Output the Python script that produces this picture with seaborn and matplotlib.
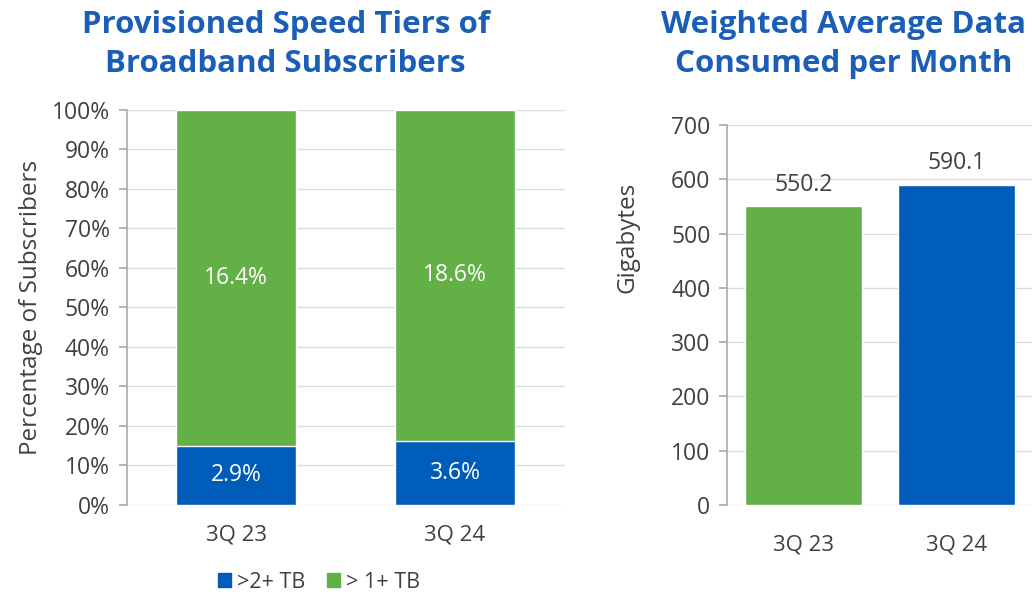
import pandas as pd
import seaborn as sns
import matplotlib.pyplot as plt
from matplotlib.patches import Patch

quarters = ['3Q 23', '3Q 24']
tier_2tb_share = [15.0, 16.2]      # bar height of the >2+ TB segment (%)
tier_2tb_labels = ['2.9%', '3.6%']
tier_1tb_labels = ['16.4%', '18.6%']
data_gb = [550.2, 590.1]

BLUE = '#005CB9'
GREEN = '#62B046'
TITLE = '#1B5EB8'
TXT = '#404040'

sns.set_theme(style='white')
plt.rcParams['font.family'] = ['Open Sans', 'DejaVu Sans']

fig = plt.figure(figsize=(10.32, 5.95), dpi=100)
ax1 = fig.add_axes([0.1226, 0.1513, 0.4244, 0.6639])
ax2 = fig.add_axes([0.7045, 0.1513, 0.2965, 0.6387])

# left chart: stacked 100% bars
df = pd.DataFrame({'quarter': quarters, 'low': tier_2tb_share,
                   'total': [100.0] * len(quarters)})
sns.barplot(data=df, x='quarter', y='total', color=GREEN, width=0.55,
            saturation=1, ax=ax1)
sns.barplot(data=df, x='quarter', y='low', color=BLUE, width=0.55,
            saturation=1, ax=ax1)
for i, (lo, l1, l2) in enumerate(zip(tier_2tb_share, tier_2tb_labels, tier_1tb_labels)):
    ax1.text(i, lo / 2, l1, ha='center', va='center', color='white', fontsize=16.5)
    ax1.text(i, (lo + 100) / 2, l2, ha='center', va='center', color='white', fontsize=16.5)
ax1.set_ylim(0, 100)
ax1.set_yticks(range(0, 101, 10))
ax1.set_yticklabels([f'{v}%' for v in range(0, 101, 10)])
ax1.set_ylabel('Percentage of Subscribers', fontsize=17.5, color=TXT, labelpad=6)
ax1.set_xlabel('')
ax1.set_title('Provisioned Speed Tiers of\nBroadband Subscribers', fontsize=22.5,
              fontweight='bold', color=TITLE, pad=27, x=0.363, linespacing=1.4)
handles = [Patch(color=BLUE, label='>2+ TB'), Patch(color=GREEN, label='> 1+ TB')]
ax1.legend(handles=handles, loc='upper center', bbox_to_anchor=(0.44, -0.12),
           ncol=2, frameon=False, fontsize=15.5, handlelength=0.6, handleheight=0.6,
           columnspacing=1.0, handletextpad=0.3, labelcolor=TXT)

# right chart: average data consumption
df2 = pd.DataFrame({'quarter': quarters, 'gb': data_gb})
sns.barplot(data=df2, x='quarter', y='gb', hue='quarter', palette=[GREEN, BLUE],
            width=0.765, saturation=1, legend=False, ax=ax2)
for i, v in enumerate(data_gb):
    ax2.text(i, v + 18, f'{v:.1f}', ha='center', va='bottom', color=TXT, fontsize=16.5)
ax2.set_ylim(0, 700)
ax2.set_yticks(range(0, 701, 100))
ax2.set_ylabel('Gigabytes', fontsize=17.5, color=TXT)
ax2.yaxis.set_label_coords(-0.285, 0.705)
ax2.set_xlabel('')
ax2.set_title('Weighted Average Data\nConsumed per Month', fontsize=22.5,
              fontweight='bold', color=TITLE, pad=38, x=0.38, linespacing=1.4)

for ax in (ax1, ax2):
    ax.set_axisbelow(True)
    ax.yaxis.grid(True, color='#DDDDDD', linewidth=1)
    for s in ('top', 'right', 'bottom'):
        ax.spines[s].set_visible(False)
    ax.spines['left'].set_color('#AAAAAA')
    ax.spines['left'].set_linewidth(1.2)
    ax.tick_params(axis='y', left=True, length=6, color='#AAAAAA', labelsize=16.5,
                   labelcolor=TXT, pad=6)
    ax.tick_params(axis='x', bottom=False, labelsize=16, labelcolor=TXT)
ax1.tick_params(axis='x', pad=8)
ax2.tick_params(axis='x', pad=15)

fig.savefig('out.png', dpi=100)
